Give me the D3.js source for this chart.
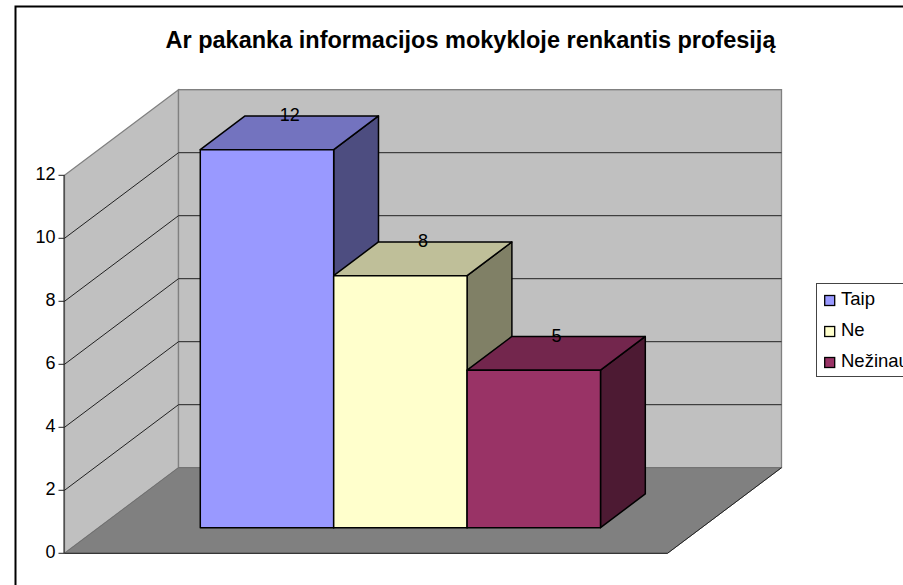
<!DOCTYPE html>
<html><head><meta charset="utf-8">
<script src="https://cdn.jsdelivr.net/npm/d3@7"></script>
<style>html,body{margin:0;padding:0;background:#fff;overflow:hidden}svg{display:block;font-family:"Liberation Sans",Arial,sans-serif}</style>
</head><body><svg id="c" width="903" height="585"></svg>
<script>
const titleText = "Ar pakanka informacijos mokykloje renkantis profesiją";
const categories = ["Taip", "Ne", "Nežinau"];
const values = [12, 8, 5];
const frontColors = ["#9999ff", "#ffffcc", "#993366"];
const topColors = ["#7373bf", "#bfbf99", "#73264d"];
const sideColors = ["#4d4d80", "#808066", "#4d1a33"];
const yTicks = [0, 2, 4, 6, 8, 10, 12];

const W = 903, H = 585;
const svg = d3.select("#c").attr("viewBox", [0, 0, W, H]);
// chart-area frame continues past the window on the right and bottom
svg.append("path").attr("d", "M15.5,1000V6.5H1000").attr("fill", "none").attr("stroke", "#000").attr("stroke-width", 2);

const y = d3.scaleLinear().domain([0, 12]).range([553.3, 175.3]);
const xFront = 64.5, xEnd = 667.5, depthX = 114, depthY = 85.6;
const barDX = 44.8, barDY = 33.8, barInset = 25.6 / depthY;
const x = d3.scaleBand().domain(categories)
  .range([xFront + depthX * barInset + 0.3, xEnd + depthX * barInset + 0.3])
  .paddingInner(0).paddingOuter(0.76);
const line = d3.line();

const y0 = y(0), y1 = y(12);
// walls
svg.append("path").attr("fill", "#c0c0c0").attr("stroke", "#808080").attr("stroke-width", 1.3)
  .attr("d", line([[xFront, y0], [xFront, y1], [xFront + depthX, y1 - depthY], [xFront + depthX, y0 - depthY], [xFront, y0]]));
svg.append("path").attr("fill", "#c0c0c0").attr("stroke", "#808080").attr("stroke-width", 1.3)
  .attr("d", line([[xFront + depthX, y0 - depthY], [xFront + depthX, y1 - depthY], [xEnd + depthX, y1 - depthY], [xEnd + depthX, y0 - depthY]]) + "Z");
// floor
svg.append("path").attr("fill", "#808080").attr("stroke", "#707070").attr("stroke-width", 1)
  .attr("d", line([[xFront, y0], [xFront + depthX, y0 - depthY], [xEnd + depthX, y0 - depthY], [xEnd, y0]]) + "Z");
svg.append("path").attr("fill", "none").attr("stroke", "#222").attr("stroke-width", 1)
  .attr("d", line([[xFront, y0], [xEnd, y0], [xEnd + depthX, y0 - depthY]]));
// gridlines
const gridVals = yTicks.filter(t => t > 0 && t < 12);
svg.append("g").selectAll("path").data(gridVals.concat([12])).join("path")
  .attr("fill", "none").attr("stroke", t => t === 12 ? "#808080" : "#222").attr("stroke-width", 1)
  .attr("d", t => t === 12
    ? line([[xFront + depthX, y(t) - depthY], [xEnd + depthX, y(t) - depthY]])
    : line([[xFront, y(t)], [xFront + depthX, y(t) - depthY], [xEnd + depthX, y(t) - depthY]]));
// y axis
svg.append("path").attr("stroke", "#222").attr("stroke-width", 1).attr("fill", "none")
  .attr("d", line([[xFront - .5, y0], [xFront - .5, y1]]));
const ax = svg.append("g").selectAll("g").data(yTicks).join("g");
ax.append("line").attr("x1", xFront - 6).attr("x2", xFront).attr("y1", d => y(d)).attr("y2", d => y(d)).attr("stroke", "#222");
ax.append("text").attr("x", xFront - 9).attr("y", d => y(d) + 4.5).attr("text-anchor", "end")
  .attr("font-size", 18).attr("fill", "#000").text(d => d);

const base = y0 - barInset * depthY;
const bw = x.bandwidth();
const bars = svg.append("g").selectAll("g").data(categories).join("g");
const barTop = (i) => base - (y0 - y(values[i]));
bars.attr("stroke", "#000").attr("stroke-width", 1.5).attr("stroke-linejoin", "round");
bars.append("path").attr("fill", (d, i) => sideColors[i])
  .attr("d", (d, i) => { const r = x(d) + bw, t = barTop(i);
    return line([[r, base], [r + barDX, base - barDY], [r + barDX, t - barDY], [r, t]]) + "Z"; });
bars.append("path").attr("fill", (d, i) => topColors[i])
  .attr("d", (d, i) => { const l = x(d), r = l + bw, t = barTop(i);
    return line([[l, t], [l + barDX, t - barDY], [r + barDX, t - barDY], [r, t]]) + "Z"; });
bars.append("rect").attr("fill", (d, i) => frontColors[i])
  .attr("x", d => x(d)).attr("width", bw)
  .attr("y", (d, i) => barTop(i)).attr("height", (d, i) => base - barTop(i));
// value labels
svg.append("g").selectAll("text").data(categories).join("text")
  .attr("x", (d, i) => x(d) + bw / 2 + barDX / 2 + 0.3)
  .attr("y", (d, i) => barTop(i) - barDY + 5.5)
  .attr("text-anchor", "middle").attr("font-size", 18).attr("fill", "#000")
  .text((d, i) => values[i]);

// title
svg.append("text").attr("x", 470.5).attr("y", 48).attr("text-anchor", "middle")
  .attr("font-size", 23.5).attr("font-weight", "bold").attr("fill", "#000").text(titleText);

// legend (runs past the right edge of the window, as in the reference)
const lg = svg.append("g");
lg.append("rect").attr("x", 816.5).attr("y", 283.5).attr("width", 200).attr("height", 93)
  .attr("fill", "#fff").attr("stroke", "#444").attr("stroke-width", 1);
const ly = d3.scalePoint().domain(categories).range([300.5, 362.5]);
const items = lg.selectAll("g").data(categories).join("g");
items.append("rect").attr("x", 824.7).attr("y", d => ly(d) - 5).attr("width", 10).attr("height", 10)
  .attr("fill", (d, i) => frontColors[i]).attr("stroke", "#000").attr("stroke-width", 1.3);
items.append("text").attr("x", 841).attr("y", d => ly(d) + 4.3).attr("font-size", 18.5).attr("fill", "#000").text(d => d);
</script></body></html>
